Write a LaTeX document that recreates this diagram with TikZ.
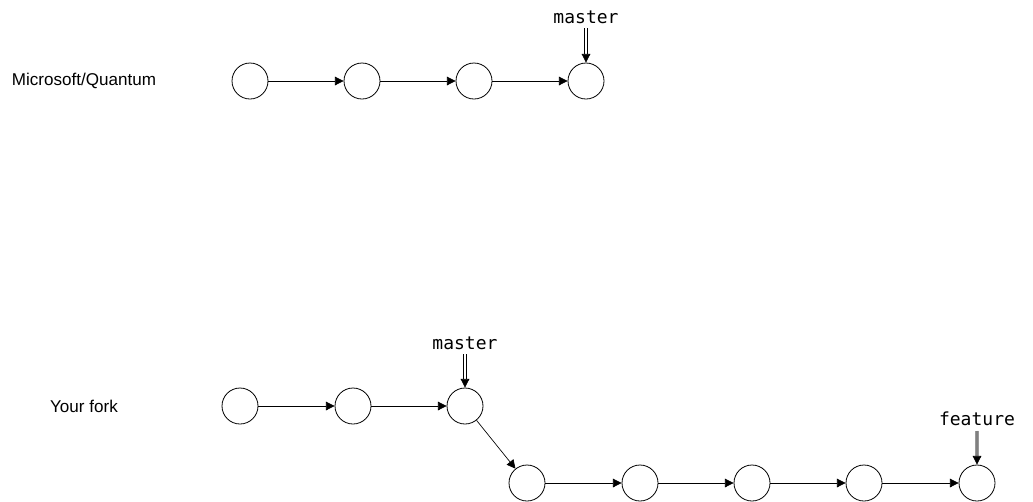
\documentclass[tikz,border=0pt]{standalone}
\usepackage{fontspec}
\setmainfont{Liberation Sans}
\setmonofont{DejaVu Sans Mono}
\usetikzlibrary{arrows.meta}
\tikzset{
  commit/.style={draw, circle, minimum size=27pt, inner sep=0pt, line width=0.6pt},
  link/.style={-{Triangle[length=6.5pt, width=6.5pt]}, line width=0.5pt},
  pointer/.style={double, double distance=1.6pt, line width=0.5pt, -{Triangle[length=6.5pt, width=6.5pt]}},
  branch/.style={font=\ttfamily\fontsize{13.5}{14}\selectfont},
  repo/.style={font=\fontsize{12.8}{13}\selectfont}
}
\begin{document}
\begin{tikzpicture}[x=0.75pt, y=-0.75pt]
  \useasboundingbox (0,0) rectangle (1033,501);
  % upstream repository
  \node[repo] (upstream) at (84,81) {Microsoft/Quantum};
  \foreach \i/\x in {1/250, 2/362, 3/474, 4/586}
    \node[commit] (c\i) at (\x,81) {};
  \foreach \i/\j in {1/2, 2/3, 3/4}
    \draw[link] (c\i) -- (c\j);
  \node[branch] (upmaster) at (586,17) {master};
  \draw[pointer] (upmaster.south) -- (c4.north);
  % the fork
  \node[repo] (fork) at (84,406) {Your fork};
  \foreach \i/\x in {1/240, 2/353, 3/465}
    \node[commit] (f\i) at (\x,406) {};
  \foreach \i/\x in {4/527, 5/640, 6/752, 7/864, 8/977}
    \node[commit] (f\i) at (\x,483) {};
  \foreach \i/\j in {1/2, 2/3, 3/4, 4/5, 5/6, 6/7, 7/8}
    \draw[link] (f\i) -- (f\j);
  \node[branch] (forkmaster) at (465,343) {master};
  \draw[pointer] (forkmaster.south) -- (f3.north);
  \node[branch] (feature) at (977,419) {feature};
  \draw[pointer, draw=gray!80, double=gray, double distance=2pt, -{Triangle[length=6.5pt, width=6.5pt, color=black]}] (feature.south) -- (f8.north);
\end{tikzpicture}
\end{document}
